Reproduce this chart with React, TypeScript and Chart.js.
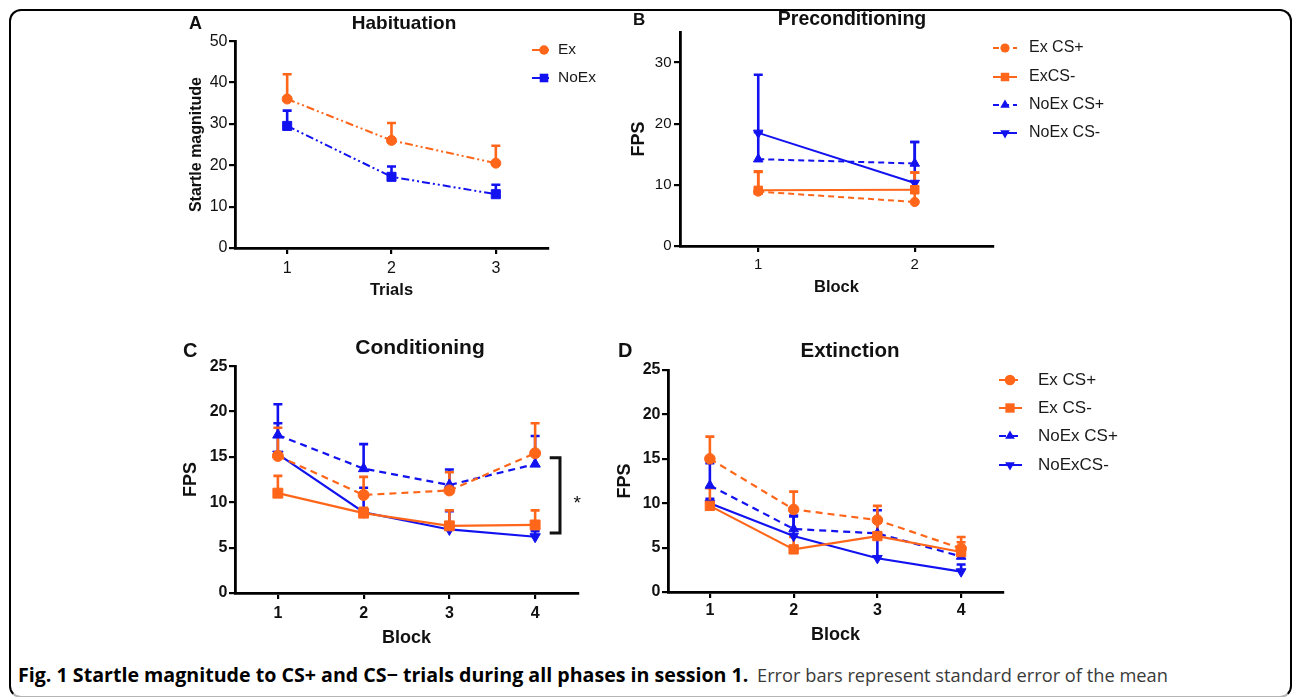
import React, { useEffect, useLayoutEffect, useRef, useState } from "react";
import { Chart, registerables } from "chart.js";

Chart.register(...registerables);

const ARIAL = '"Liberation Sans", Arial, Helvetica, sans-serif';
const CAPTION_FONT = '"Open Sans", "Noto Sans", sans-serif';
const ORANGE = "#FF661A";
const BLUE = "#1212F0";
const INK = "#111111";

// ---------------- data ----------------
// A. Habituation
const habTrials = ["1", "2", "3"];
const habYTicks = [0, 10, 20, 30, 40, 50];
const habEx = [36.0, 26.0, 20.5];
const habExSem = [6.0, 4.2, 4.2];
const habNoEx = [29.5, 17.2, 13.0];
const habNoExSem = [3.7, 2.5, 2.3];
const habLegend = ["Ex", "NoEx"];

// B. Preconditioning
const preBlocks = ["1", "2"];
const preYTicks = [0, 10, 20, 30];
const preExCSplus = [8.9, 7.2];
const preExCSplusSem = [3.3, 4.8];
const preExCSminus = [9.1, 9.2];
const preExCSminusSem = [3.0, 2.8];
const preNoExCSplus = [14.2, 13.5];
const preNoExCSplusSem = [4.4, 3.5];
const preNoExCSminus = [18.5, 10.3];
const preNoExCSminusSem = [9.5, 6.7];
const preLegend = ["Ex CS+", "ExCS-", "NoEx CS+", "NoEx CS-"];

// C. Conditioning
const condBlocks = ["1", "2", "3", "4"];
const condYTicks = [0, 5, 10, 15, 20, 25];
const condExCSplus = [15.1, 10.8, 11.3, 15.4];
const condExCSplusSem = [3.1, 2.0, 2.0, 3.3];
const condExCSminus = [11.0, 8.8, 7.4, 7.5];
const condExCSminusSem = [1.9, 0.6, 1.7, 1.6];
const condNoExCSplus = [17.4, 13.7, 11.9, 14.2];
const condNoExCSplusSem = [3.4, 2.7, 1.7, 3.1];
const condNoExCSminus = [15.3, 8.9, 7.0, 6.2];
const condNoExCSminusSem = [3.4, 2.7, 2.0, 0.6];
const condLabels = ["Ex CS+", "Ex CS-", "NoEx CS+", "NoEx CS-"];
// significance bracket (category-index / value space)
const condSig = { x: 3.29, armX: 3.17, top: 14.9, bottom: 6.6, starX: 3.49, starY: 10.5, text: "*" };

// D. Extinction
const extBlocks = ["1", "2", "3", "4"];
const extYTicks = [0, 5, 10, 15, 20, 25];
const extExCSplus = [15.0, 9.3, 8.1, 4.9];
const extExCSplusSem = [2.5, 2.0, 1.6, 1.3];
const extExCSminus = [9.7, 4.8, 6.3, 4.5];
const extExCSminusSem = [2.0, 1.4, 1.5, 1.1];
const extNoExCSplus = [12.0, 7.1, 6.6, 4.0];
const extNoExCSplusSem = [2.5, 1.5, 2.6, 0.9];
const extNoExCSminus = [10.0, 6.3, 3.8, 2.3];
const extNoExCSminusSem = [0.5, 2.2, 2.6, 0.8];
const extLegend = ["Ex CS+", "Ex CS-", "NoEx CS+", "NoExCS-"];

// ---------------- types ----------------
type Mk = "circle" | "rect" | "triangle" | "down";
interface Ser {
  label: string;
  values: number[];
  sem: number[];
  color: string;
  dash: number[];
  marker: Mk;
  r: number;
}
interface Rect { x: number; y: number; w: number; h: number }
interface Area { l: number; r: number; t: number; b: number }
interface LegendSpec { x0: number; x1: number; mx: number; tx: number; rows: number[]; size: number; mscale: number }
interface PanelSpec {
  canvas: Rect;
  area: Area;
  labels: string[];
  series: Ser[];
  yMin: number;
  yMax: number;
  yTicks: number[];
  yTitle: string;
  yTitleSize: number;
  yTitleX: number;
  xTitle: string;
  xTitleSize: number;
  xTitleY: number;
  tickSize: number;
  tickBold: boolean;
  xTickPad: number;
  yTickPad: number;
  lineWidth: number;
  legend?: LegendSpec;
  sig?: typeof condSig;
}

function drawMarker(ctx: CanvasRenderingContext2D, m: Mk, x: number, y: number, r: number, color: string) {
  ctx.save();
  ctx.fillStyle = color;
  ctx.setLineDash([]);
  ctx.beginPath();
  if (m === "circle") {
    ctx.arc(x, y, r, 0, Math.PI * 2);
  } else if (m === "rect") {
    const s = r * Math.SQRT1_2;
    ctx.rect(x - s, y - s, 2 * s, 2 * s);
  } else {
    const d = m === "down" ? -1 : 1;
    ctx.moveTo(x, y - d * r);
    ctx.lineTo(x - r * 0.866, y + d * r * 0.5);
    ctx.lineTo(x + r * 0.866, y + d * r * 0.5);
    ctx.closePath();
  }
  ctx.fill();
  ctx.restore();
}

const errorBarPlugin = {
  id: "semBars",
  beforeDatasetsDraw(chart: any) {
    const ctx: CanvasRenderingContext2D = chart.ctx;
    const ys = chart.scales.y;
    for (let d = chart.data.datasets.length - 1; d >= 0; d--) {
      const ds = chart.data.datasets[d];
      const meta = chart.getDatasetMeta(d);
      meta.data.forEach((pt: any, i: number) => {
        const e = ds.sem ? ds.sem[i] : 0;
        if (!e) return;
        const v = ds.data[i];
        const p0 = ys.getPixelForValue(v);
        const p1 = ys.getPixelForValue(v + e);
        ctx.save();
        ctx.strokeStyle = ds.borderColor;
        ctx.lineWidth = 2.6;
        ctx.setLineDash([]);
        ctx.beginPath();
        ctx.moveTo(pt.x, p0);
        ctx.lineTo(pt.x, p1);
        ctx.moveTo(pt.x - 4.5, p1);
        ctx.lineTo(pt.x + 4.5, p1);
        ctx.stroke();
        ctx.restore();
      });
    }
  },
};

function legendPlugin(spec: PanelSpec) {
  return {
    id: "figLegend",
    afterDraw(chart: any) {
      const L = spec.legend;
      if (!L) return;
      const ctx: CanvasRenderingContext2D = chart.ctx;
      const ox = spec.canvas.x;
      const oy = spec.canvas.y;
      spec.series.forEach((s, i) => {
        const y = L.rows[i] - oy;
        ctx.save();
        ctx.strokeStyle = s.color;
        ctx.lineWidth = 2;
        ctx.setLineDash(s.dash);
        ctx.beginPath();
        ctx.moveTo(L.x0 - ox, y);
        ctx.lineTo(L.x1 - ox, y);
        ctx.stroke();
        ctx.restore();
        drawMarker(ctx, s.marker, L.mx - ox, y, s.r * L.mscale, s.color);
        ctx.save();
        ctx.fillStyle = "#1a1a1a";
        ctx.font = `${L.size}px ${ARIAL}`;
        ctx.textBaseline = "middle";
        ctx.textAlign = "left";
        ctx.fillText(s.label, L.tx - ox, y);
        ctx.restore();
      });
    },
  };
}

function sigPlugin(spec: PanelSpec) {
  return {
    id: "sigBracket",
    afterDatasetsDraw(chart: any) {
      const sig = spec.sig;
      if (!sig) return;
      const xs = chart.scales.x;
      const ys = chart.scales.y;
      const ctx: CanvasRenderingContext2D = chart.ctx;
      const px = xs.getPixelForValue(sig.x);
      const pa = xs.getPixelForValue(sig.armX);
      const pt = ys.getPixelForValue(sig.top);
      const pb = ys.getPixelForValue(sig.bottom);
      ctx.save();
      ctx.strokeStyle = INK;
      ctx.lineWidth = 3;
      ctx.setLineDash([]);
      ctx.lineJoin = "miter";
      ctx.beginPath();
      ctx.moveTo(pa, pt);
      ctx.lineTo(px, pt);
      ctx.lineTo(px, pb);
      ctx.lineTo(pa, pb);
      ctx.stroke();
      const size = 19;
      ctx.fillStyle = INK;
      ctx.font = `${size}px ${ARIAL}`;
      ctx.textAlign = "center";
      ctx.textBaseline = "alphabetic";
      ctx.fillText(sig.text, xs.getPixelForValue(sig.starX), ys.getPixelForValue(sig.starY) + 0.57 * size);
      ctx.restore();
    },
  };
}

function buildConfig(spec: PanelSpec): any {
  const { canvas, area } = spec;
  const yLh = spec.yTitleSize * 1.2;
  const xLh = spec.xTitleSize * 1.2;
  const tickFont = { family: ARIAL, size: spec.tickSize, weight: spec.tickBold ? "bold" : "normal" };
  const gridCommon = {
    display: true,
    drawOnChartArea: false,
    drawTicks: true,
    tickLength: 6,
    color: "#000",
    lineWidth: 2.2,
  };
  return {
    type: "line",
    data: {
      labels: spec.labels,
      datasets: spec.series.map((s) => ({
        label: s.label,
        data: s.values,
        sem: s.sem,
        borderColor: s.color,
        backgroundColor: s.color,
        borderWidth: spec.lineWidth,
        borderDash: s.dash,
        pointStyle: s.marker === "down" ? "triangle" : s.marker,
        rotation: s.marker === "down" ? 180 : 0,
        pointRadius: s.r,
        pointBorderWidth: 1,
        pointBackgroundColor: s.color,
        pointBorderColor: s.color,
        tension: 0,
        fill: false,
        clip: false,
      })),
    },
    options: {
      responsive: false,
      animation: false,
      events: [],
      layout: {
        padding: {
          left: 0,
          top: area.t - canvas.y,
          right: canvas.x + canvas.w - area.r,
          bottom: 0,
        },
      },
      plugins: {
        legend: { display: false },
        tooltip: { enabled: false },
        title: { display: false },
      },
      scales: {
        x: {
          type: "category",
          offset: true,
          grid: { ...gridCommon, offset: false },
          border: { display: true, color: "#000", width: 2.8 },
          ticks: { color: INK, font: tickFont, padding: spec.xTickPad, maxRotation: 0, autoSkip: false },
          title: {
            display: true,
            text: spec.xTitle,
            color: INK,
            font: { family: ARIAL, size: spec.xTitleSize, weight: "bold" },
            padding: { top: 0, bottom: canvas.y + canvas.h - spec.xTitleY - xLh / 2 },
          },
          afterFit: (sc: any) => {
            sc.height = canvas.y + canvas.h - area.b;
          },
        },
        y: {
          type: "linear",
          min: spec.yMin,
          max: spec.yMax,
          grid: gridCommon,
          border: { display: true, color: "#000", width: 2.8 },
          ticks: { color: INK, font: tickFont, padding: spec.yTickPad },
          afterBuildTicks: (sc: any) => {
            sc.ticks = spec.yTicks.map((v) => ({ value: v }));
          },
          title: {
            display: true,
            text: spec.yTitle,
            color: INK,
            font: { family: ARIAL, size: spec.yTitleSize, weight: "bold" },
            padding: { top: spec.yTitleX - canvas.x - yLh / 2, bottom: 0 },
          },
          afterFit: (sc: any) => {
            sc.width = area.l - canvas.x;
          },
        },
      },
    },
    plugins: [errorBarPlugin, legendPlugin(spec), sigPlugin(spec)],
  };
}

function Panel({ spec }: { spec: PanelSpec }) {
  const ref = useRef<HTMLCanvasElement>(null);
  useEffect(() => {
    if (!ref.current) return;
    const chart = new Chart(ref.current, buildConfig(spec));
    return () => chart.destroy();
  }, []);
  const { x, y, w, h } = spec.canvas;
  return (
    <canvas
      ref={ref}
      width={w}
      height={h}
      style={{ position: "absolute", left: x, top: y, width: w, height: h, display: "block" }}
    />
  );
}

function Txt(props: { x: number; base: number; size: number; bold?: boolean; center?: boolean; children: any }) {
  const { x, base, size, bold, center, children } = props;
  return (
    <div
      style={{
        position: "absolute",
        left: x,
        top: base - 0.8465 * size,
        fontFamily: ARIAL,
        fontSize: size,
        lineHeight: `${size}px`,
        fontWeight: bold ? 700 : 400,
        color: INK,
        whiteSpace: "nowrap",
        transform: center ? "translateX(-50%)" : undefined,
      }}
    >
      {children}
    </div>
  );
}

function FitText(props: { x: number; base: number; size: number; width: number; weight: number; color: string; children: any }) {
  const { x, base, size, width, weight, color, children } = props;
  const ref = useRef<HTMLSpanElement>(null);
  const [sx, setSx] = useState(1);
  useLayoutEffect(() => {
    if (ref.current) {
      const w = ref.current.offsetWidth;
      if (w > 0) setSx(width / w);
    }
  }, []);
  return (
    <span
      ref={ref}
      style={{
        position: "absolute",
        left: x,
        top: base - 0.888 * size,
        fontFamily: CAPTION_FONT,
        fontSize: size,
        lineHeight: `${size}px`,
        fontWeight: weight,
        color,
        whiteSpace: "nowrap",
        display: "inline-block",
        transformOrigin: "0 0",
        transform: `scaleX(${sx})`,
      }}
    >
      {children}
    </span>
  );
}

const DASH_DOT2 = [8, 3, 2, 3, 2, 3];
const DASH = [7, 5];

const panelA: PanelSpec = {
  canvas: { x: 180, y: 30, w: 420, h: 280 },
  area: { l: 235, r: 548, t: 39, b: 248 },
  labels: habTrials,
  series: [
    { label: habLegend[0], values: habEx, sem: habExSem, color: ORANGE, dash: DASH_DOT2, marker: "circle", r: 5 },
    { label: habLegend[1], values: habNoEx, sem: habNoExSem, color: BLUE, dash: DASH_DOT2, marker: "rect", r: 6.4 },
  ],
  yMin: 0,
  yMax: 50,
  yTicks: habYTicks,
  yTitle: "Startle magnitude",
  yTitleSize: 16,
  yTitleX: 197,
  xTitle: "Trials",
  xTitleSize: 16.5,
  xTitleY: 290,
  tickSize: 16,
  tickBold: false,
  xTickPad: 4.5,
  yTickPad: 1.5,
  lineWidth: 2,
  legend: { x0: 532, x1: 549, mx: 544, tx: 558, rows: [50, 78], size: 15.5, mscale: 0.95 },
};

const panelB: PanelSpec = {
  canvas: { x: 610, y: 20, w: 530, h: 290 },
  area: { l: 680, r: 993, t: 32, b: 246 },
  labels: preBlocks,
  series: [
    { label: preLegend[0], values: preExCSplus, sem: preExCSplusSem, color: ORANGE, dash: [6, 4], marker: "circle", r: 4.6 },
    { label: preLegend[1], values: preExCSminus, sem: preExCSminusSem, color: ORANGE, dash: [], marker: "rect", r: 6 },
    { label: preLegend[2], values: preNoExCSplus, sem: preNoExCSplusSem, color: BLUE, dash: [6, 4], marker: "triangle", r: 5.5 },
    { label: preLegend[3], values: preNoExCSminus, sem: preNoExCSminusSem, color: BLUE, dash: [], marker: "down", r: 5.5 },
  ],
  yMin: 0,
  yMax: 35,
  yTicks: preYTicks,
  yTitle: "FPS",
  yTitleSize: 18,
  yTitleX: 639,
  xTitle: "Block",
  xTitleSize: 16.5,
  xTitleY: 287.5,
  tickSize: 15,
  tickBold: false,
  xTickPad: 4,
  yTickPad: 2.5,
  lineWidth: 2,
  legend: { x0: 993, x1: 1017, mx: 1005, tx: 1029, rows: [48, 77, 105, 133], size: 16, mscale: 1 },
};

const panelC: PanelSpec = {
  canvas: { x: 170, y: 355, w: 430, h: 300 },
  area: { l: 235, r: 578, t: 365, b: 593 },
  labels: condBlocks,
  series: [
    { label: condLabels[0], values: condExCSplus, sem: condExCSplusSem, color: ORANGE, dash: DASH, marker: "circle", r: 5.5 },
    { label: condLabels[1], values: condExCSminus, sem: condExCSminusSem, color: ORANGE, dash: [], marker: "rect", r: 7 },
    { label: condLabels[2], values: condNoExCSplus, sem: condNoExCSplusSem, color: BLUE, dash: DASH, marker: "triangle", r: 6 },
    { label: condLabels[3], values: condNoExCSminus, sem: condNoExCSminusSem, color: BLUE, dash: [], marker: "down", r: 6 },
  ],
  yMin: 0,
  yMax: 25,
  yTicks: condYTicks,
  yTitle: "FPS",
  yTitleSize: 18,
  yTitleX: 191,
  xTitle: "Block",
  xTitleSize: 18,
  xTitleY: 638.5,
  tickSize: 16,
  tickBold: true,
  xTickPad: 4.5,
  yTickPad: 1.5,
  lineWidth: 2.2,
  sig: condSig,
};

const panelD: PanelSpec = {
  canvas: { x: 600, y: 355, w: 530, h: 300 },
  area: { l: 668, r: 1003, t: 370, b: 592 },
  labels: extBlocks,
  series: [
    { label: extLegend[0], values: extExCSplus, sem: extExCSplusSem, color: ORANGE, dash: DASH, marker: "circle", r: 5.3 },
    { label: extLegend[1], values: extExCSminus, sem: extExCSminusSem, color: ORANGE, dash: [], marker: "rect", r: 6.6 },
    { label: extLegend[2], values: extNoExCSplus, sem: extNoExCSplusSem, color: BLUE, dash: DASH, marker: "triangle", r: 5.6 },
    { label: extLegend[3], values: extNoExCSminus, sem: extNoExCSminusSem, color: BLUE, dash: [], marker: "down", r: 5.6 },
  ],
  yMin: 0,
  yMax: 25,
  yTicks: extYTicks,
  yTitle: "FPS",
  yTitleSize: 18,
  yTitleX: 625.5,
  xTitle: "Block",
  xTitleSize: 18,
  xTitleY: 635,
  tickSize: 16,
  tickBold: true,
  xTickPad: 2.8,
  yTickPad: 1.5,
  lineWidth: 2.2,
  legend: { x0: 999, x1: 1022, mx: 1010, tx: 1038, rows: [380, 408, 436, 465], size: 17, mscale: 1 },
};

export default function App() {
  return (
    <div
      style={{
        position: "fixed",
        left: 0,
        top: 0,
        width: 1292,
        height: 697,
        overflow: "hidden",
        background: "#fff",
      }}
    >
      <div
        style={{
          position: "absolute",
          left: 9,
          top: 9,
          width: 1283,
          height: 689,
          boxSizing: "border-box",
          border: "2px solid #000",
          borderBottomColor: "#b5b5b5",
          borderRadius: 12,
        }}
      />
      <Panel spec={panelA} />
      <Panel spec={panelB} />
      <Panel spec={panelC} />
      <Panel spec={panelD} />

      <Txt x={189} base={29} size={18} bold>A</Txt>
      <Txt x={404} base={29} size={19} bold center>Habituation</Txt>
      <Txt x={633} base={25} size={17} bold>B</Txt>
      <Txt x={852} base={26} size={19.5} bold center>Preconditioning</Txt>
      <Txt x={183} base={357} size={20} bold>C</Txt>
      <Txt x={420} base={354} size={21} bold center>Conditioning</Txt>
      <Txt x={618} base={357} size={20} bold>D</Txt>
      <Txt x={850} base={357} size={20.5} bold center>Extinction</Txt>

      <FitText x={18} base={683} size={19} width={730} weight={700} color="#000">
        Fig. 1 Startle magnitude to CS+ and CS− trials during all phases in session 1.
      </FitText>
      <FitText x={757} base={683} size={19} width={411} weight={400} color="#3a3a3a">
        Error bars represent standard error of the mean
      </FitText>
    </div>
  );
}
